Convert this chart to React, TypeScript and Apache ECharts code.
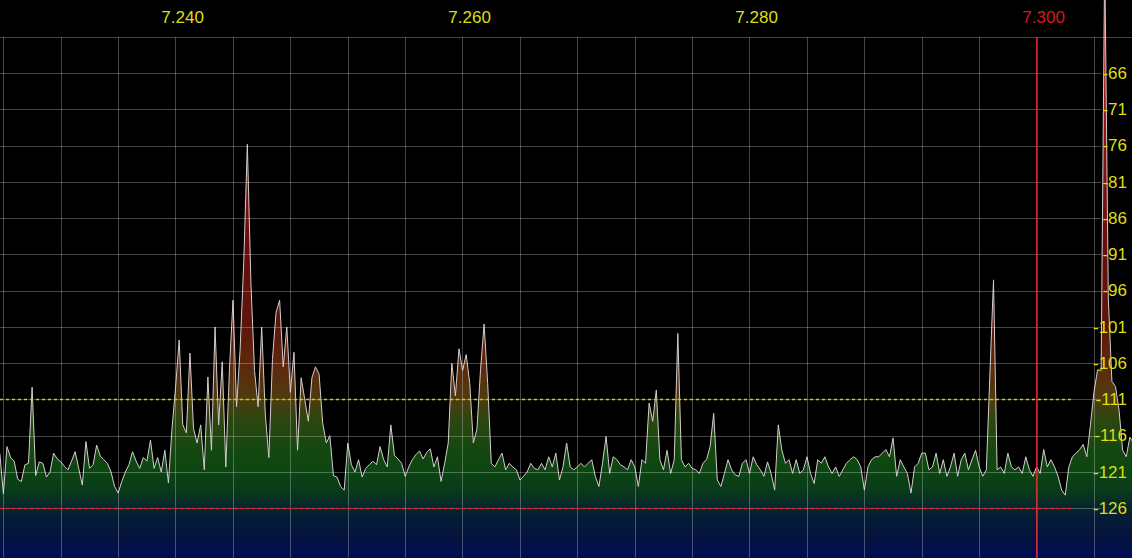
import React, { useEffect, useRef } from 'react';
import * as echarts from 'echarts';

// FFT bins: frequency of bin i = freqStartKHz + i * freqStepKHz (kHz)
const freqStartKHz = 7227.75;
const freqStepKHz = 0.25;

// level in dBm per bin
const spectrumA = [
  -118.4, -124.0, -117.5, -119.0, -119.5, -122.0, -122.3, -120.0, -119.8, -109.3,
  -121.5, -119.6, -119.8, -121.7, -121.0, -118.4, -119.2, -119.6, -120.2, -120.7,
  -119.5, -118.2, -120.5, -122.8, -116.8, -120.5, -120.0, -117.3, -118.8, -119.3,
  -119.8, -121.0, -123.0, -123.9, -122.3, -121.0, -120.0, -118.2, -119.5, -120.5,
  -119.0, -119.5, -116.6, -120.5, -119.0, -121.0, -118.0, -122.5, -115.0, -109.3,
  -102.8, -114.5, -115.6, -104.6, -115.0, -117.0, -114.5, -120.7, -107.9, -118.0,
  -101.0, -114.5, -105.8, -120.3, -107.0, -97.3, -112.0, -104.0, -92.0, -75.8,
  -95.0, -107.0, -112.0, -101.0, -113.0, -119.0, -105.5, -99.0, -97.3, -106.5,
];
const spectrumB = [
  -101.0, -110.0, -104.5, -118.0, -108.0, -111.0, -114.0, -108.0, -106.5, -107.5,
  -114.2, -117.0, -116.0, -121.5, -121.7, -123.0, -123.5, -117.0, -120.0, -121.0,
  -119.3, -121.7, -120.5, -120.0, -119.5, -120.0, -117.5, -119.3, -120.3, -114.5,
  -118.7, -119.2, -119.8, -121.6, -120.3, -119.3, -118.6, -118.1, -119.2, -118.3,
  -117.8, -120.3, -118.9, -122.3, -119.8, -117.0, -106.0, -110.5, -104.0, -107.0,
  -104.8, -108.8, -117.0, -115.1, -106.9, -100.6, -108.8, -119.8, -120.3, -119.3,
  -118.4, -120.7, -119.8, -120.3, -120.7, -122.1, -121.6, -121.0, -119.8, -120.5,
  -120.7, -119.8, -120.7, -118.9, -120.3, -118.4, -122.1, -120.3, -117.0, -120.3,
];
const spectrumC = [
  -120.7, -120.3, -119.8, -120.3, -119.8, -119.3, -121.6, -123.0, -119.8, -116.1,
  -121.2, -118.9, -119.3, -120.0, -120.3, -120.7, -119.3, -120.3, -123.0, -119.3,
  -119.8, -111.5, -114.0, -109.7, -119.3, -120.7, -118.0, -121.2, -119.3, -101.9,
  -119.3, -120.3, -119.8, -120.5, -120.7, -121.2, -119.8, -119.3, -117.5, -112.9,
  -122.1, -123.0, -121.2, -119.3, -120.7, -121.4, -121.6, -119.8, -119.3, -121.2,
  -118.9, -120.0, -120.7, -121.6, -119.6, -121.2, -123.5, -114.5, -118.0, -119.8,
  -119.3, -121.2, -119.3, -121.2, -120.7, -118.9, -121.2, -122.6, -119.3, -119.8,
  -118.9, -120.3, -121.2, -120.3, -121.6, -120.7, -119.8, -119.3, -118.9, -119.3,
];
const spectrumD = [
  -120.3, -123.5, -120.3, -119.3, -118.9, -118.9, -118.4, -117.9, -118.9, -116.3,
  -121.6, -119.3, -120.3, -121.2, -123.9, -120.3, -119.8, -118.4, -118.4, -120.7,
  -120.3, -118.4, -121.2, -119.3, -121.6, -120.3, -118.4, -121.6, -119.3, -118.4,
  -120.7, -119.3, -118.0, -120.3, -121.6, -120.7, -107.4, -94.5, -120.7, -120.3,
  -121.2, -118.4, -120.3, -120.7, -120.3, -121.2, -118.9, -120.7, -121.6, -120.3,
  -121.2, -117.9, -120.3, -119.3, -120.3, -121.6, -123.5, -124.2, -120.3, -118.9,
  -118.4, -117.9, -117.2, -118.9, -114.6, -110.0, -106.9, -107.0, -50.0, -97.0,
  -108.5, -109.2, -112.5, -118.0, -118.9, -116.2, -117.0,
];

const squelchLevel = -111;
const noiseFloorLevel = -126;
const tunedFreqKHz = 7300;
const levelLineStartKHz = 7224;
const levelLineEndKHz = 7302.5;
const gridLineEndKHz = 7304.5;

const axisMinKHz = 7224;
const axisMaxKHz = 7306.93;
const axisStepKHz = 4;
const labelEveryKHz = 20;
const dbMin = -136;
const dbMax = -61;
const dbStep = 5;
const dbLabelLow = -126;
const dbLabelHigh = -66;

const FONT = '"Liberation Sans", Arial, sans-serif';
const YELLOW = '#dede12';
const RED = '#d41a1a';
const GRID = 'rgba(255,255,255,0.27)';

export default function App() {
  const ref = useRef<HTMLDivElement>(null);

  useEffect(() => {
    document.body.style.margin = '0';
    document.body.style.background = '#000';
    const el = ref.current!;
    const chart = echarts.init(el, null, { renderer: 'svg' });

    const levels = [...spectrumA, ...spectrumB, ...spectrumC, ...spectrumD];
    const data = levels.map((v, i) => [freqStartKHz + i * freqStepKHz, v]);

    const fill = new echarts.graphic.LinearGradient(
      0, 37, 0, 558,
      [
        { offset: 0, color: '#c01818' },
        { offset: 0.207, color: '#8a1212' },
        { offset: 0.409, color: '#6a0c0a' },
        { offset: 0.553, color: '#5c160a' },
        { offset: 0.622, color: '#5f260c' },
        { offset: 0.691, color: '#503a10' },
        { offset: 0.735, color: '#2c4610' },
        { offset: 0.783, color: '#17480f' },
        { offset: 0.831, color: '#0c4612' },
        { offset: 0.869, color: '#093c18' },
        { offset: 0.898, color: '#06282a' },
        { offset: 0.927, color: '#051a38' },
        { offset: 0.965, color: '#04123f' },
        { offset: 1, color: '#030c58' },
      ],
      true
    );

    // horizontal grid lines at the level ticks (they stop short of the label column)
    const gridLevels: number[] = [];
    for (let v = dbLabelLow; v <= dbLabelHigh; v += dbStep) gridLevels.push(v);
    const hLines = gridLevels.map((v) => [
      { coord: [axisMinKHz, v], lineStyle: { color: GRID, width: 1, type: 'solid' } },
      { coord: [gridLineEndKHz, v] },
    ]);
    const topLine = [
      { coord: [axisMinKHz, dbMax], lineStyle: { color: GRID, width: 1, type: 'solid' } },
      { coord: [axisMaxKHz, dbMax] },
    ];

    chart.setOption({
      animation: false,
      backgroundColor: '#000',
      grid: {
        left: 0,
        top: 37,
        width: 1190,
        height: 543.75,
        containLabel: false,
        outerBoundsMode: 'none',
      },
      xAxis: {
        type: 'value',
        position: 'top',
        min: axisMinKHz,
        max: axisMaxKHz,
        interval: axisStepKHz,
        z: 3,
        axisLine: { show: false },
        axisTick: { show: false },
        splitLine: { show: true, showMinLine: false, showMaxLine: false, lineStyle: { color: GRID, width: 1 } },
        axisLabel: {
          margin: 11,
          fontSize: 17,
          fontFamily: FONT,
          padding: [0, 0, 0, 14],
          color: (v: any) => (Number(v) === tunedFreqKHz ? RED : YELLOW),
          formatter: (v: number) =>
            Math.abs(v % labelEveryKHz) < 1e-6 ? (v / 1000).toFixed(3) : '',
        },
      },
      yAxis: {
        type: 'value',
        position: 'right',
        min: dbMin,
        max: dbMax,
        interval: dbStep,
        z: 6,
        axisLine: { show: false },
        axisTick: { show: false },
        splitLine: { show: false },
        axisLabel: {
          inside: true,
          align: 'right',
          margin: 9,
          fontSize: 17,
          fontFamily: FONT,
          color: YELLOW,
          formatter: (v: number) =>
            v >= dbLabelLow && v <= dbLabelHigh ? String(v) : '',
        },
      },
      series: [
        {
          type: 'line',
          data,
          clip: false,
          symbol: 'none',
          showSymbol: false,
          z: 2,
          lineStyle: { color: '#d4cccc', width: 1 },
          areaStyle: { color: fill, opacity: 1, origin: 'start' },
          markLine: {
            silent: true,
            symbol: ['none', 'none'],
            label: { show: false },
            z: 5,
            data: [
              ...hLines,
              topLine,
              [
                {
                  coord: [levelLineStartKHz, squelchLevel],
                  lineStyle: { color: '#cccc10', width: 1.4, type: [3, 3] },
                },
                { coord: [levelLineEndKHz, squelchLevel] },
              ],
              [
                {
                  coord: [levelLineStartKHz, noiseFloorLevel],
                  lineStyle: { color: '#e01c1c', width: 1.4, type: [3, 3] },
                },
                { coord: [levelLineEndKHz, noiseFloorLevel] },
              ],
              {
                xAxis: tunedFreqKHz,
                lineStyle: { color: '#ff1a1a', width: 1.5, type: 'solid' },
              },
            ],
          },
        },
      ],
    });

    return () => chart.dispose();
  }, []);

  return (
    <div
      ref={ref}
      style={{ position: 'fixed', left: -54, top: 0, width: 1190, height: 600 }}
    />
  );
}
